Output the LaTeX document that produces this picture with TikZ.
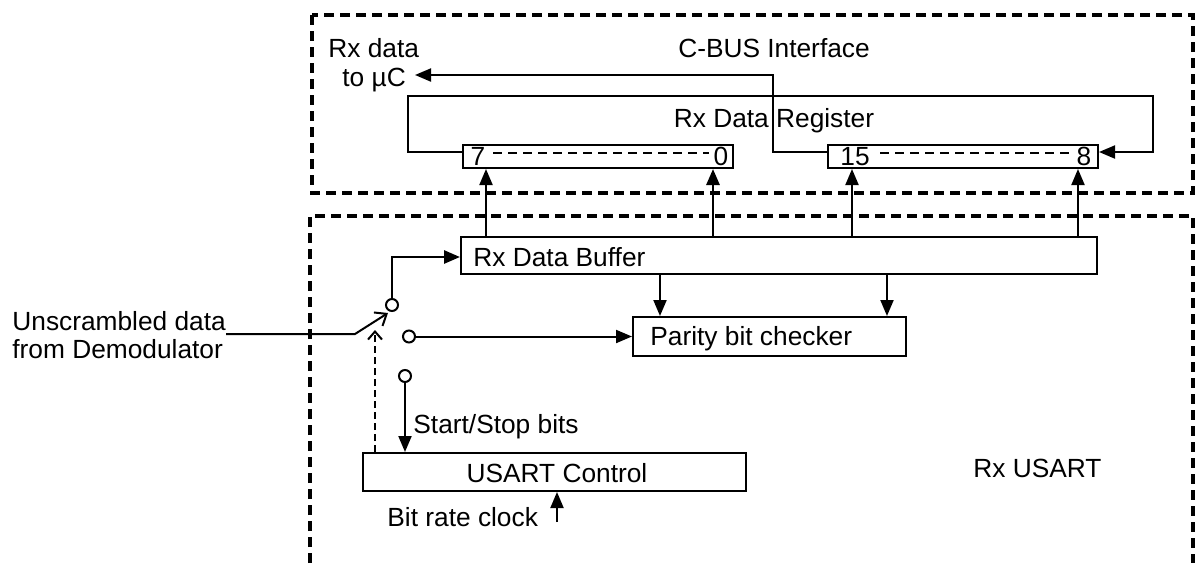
\documentclass[tikz,border=0pt]{standalone}
\usepackage{fontspec}
\setmainfont{Liberation Sans}
\usetikzlibrary{arrows.meta,fit}
\begin{document}
\begin{tikzpicture}[x=0.5pt,y=-0.5pt,
  every node/.style={font=\fontsize{13.15pt}{15.8pt}\selectfont, inner sep=0pt},
  box/.style={draw, line width=1pt, inner sep=0pt},
  lbl/.style={anchor=base west},
  clbl/.style={anchor=base},
  ln/.style={line width=1pt},
  arr/.style={ln, -{Triangle[length=8pt,width=6.5pt]}},
  barb/.style={ln, -{Straight Barb[length=5pt,width=8pt]}},
  region/.style={line width=1.6pt, dash pattern=on 5pt off 3pt},
  bitdash/.style={line width=0.8pt, dash pattern=on 4.5pt off 3pt},
  ctrldash/.style={ln, dash pattern=on 3.5pt off 2pt, -{Straight Barb[length=4pt,width=7pt]}},
  circ/.style={circle, draw, line width=1pt, minimum size=6pt, inner sep=0pt}]
\useasboundingbox (0,0) rectangle (1195,563);

% regions
\draw[region] (312,15) rectangle (1193,193);
\draw[region] (310,563) -- (310,216) -- (1193,216) -- (1193,563);

% C-BUS interface
\node[lbl] (rxd) at (328,57) {Rx data};
\node[lbl] (tuc) at (342,86) {to µC};
\node[clbl] (cbus) at (774,57) {C-BUS Interface};
\node[clbl] (rdr) at (774,127) {Rx Data Register};

\node[box, fit={(463,145)(733,168)}] (r70) {};
\node[box, fit={(828,145)(1098,168)}] (r158) {};
\node[clbl] (b7) at (478,165) {7};
\node[clbl] (b0) at (721,165) {0};
\node[clbl] (b15) at (855,165) {15};
\node[clbl] (b8) at (1084,165) {8};
\draw[bitdash] (493,153) -- (709,153);
\draw[bitdash] (880,153) -- (1073,153);

\coordinate (outtip) at (415,75);
\draw[arr] (r70.west |- 0,152) -| (408,96) -| (1153,152) -- (r158.east |- 0,152);
\draw[arr] (r158.west |- 0,152) -| (773,75) -- (outtip);

% Rx USART
\node[lbl] (rxu) at (973,477) {Rx USART};

\node[box, fit={(461,237)(1097,274)}] (buf) {};
\node[lbl] (buft) at (473,266) {Rx Data Buffer};

\draw[arr] (486,0 |- buf.north) -- (486,0 |- r70.south);
\draw[arr, line width=1.4pt] (713,0 |- buf.north) -- (713,0 |- r70.south);
\draw[arr] (852,0 |- buf.north) -- (852,0 |- r158.south);
\draw[arr] (1078,0 |- buf.north) -- (1078,0 |- r158.south);

\node[box, fit={(633,317)(906,356)}] (par) {};
\node[lbl] (part) at (650,345) {Parity bit checker};
\draw[arr] (660,0 |- buf.south) -- (660,0 |- par.north);
\draw[arr] (887,0 |- buf.south) -- (887,0 |- par.north);

\node[box, fit={(363,453)(746,491)}] (usart) {};
\node[clbl] (usartt) at (557,482) {USART Control};

\node[circ] (c1) at (392,305) {};
\node[circ] (c2) at (409,336.5) {};
\node[circ] (c3) at (405,376) {};

\draw[arr, line width=1.4pt] (c1.north) |- (buf.west |- 0,257);
\draw[arr] (c2.east) -- (par.west |- c2);
\draw[arr] (c3.south) -- (c3.south |- usart.north);
\node[lbl] (ssb) at (413,433) {Start/Stop bits};

\coordinate (clk) at (557,522);
\draw[arr] (clk) -- (clk |- usart.south);
\node[lbl] (brc) at (387,526) {Bit rate clock};

\coordinate (ctrltip) at (375,330);
\draw[ctrldash] (ctrltip |- usart.north) -- (ctrltip);

\node[lbl] (ud1) at (12,330) {Unscrambled data};
\node[lbl] (ud2) at (12,358) {from Demodulator};
\coordinate (pivot) at (355,334);
\coordinate (swtip) at (388,313);
\draw[barb] (ud1.east |- pivot) -- (pivot) -- (swtip);
\end{tikzpicture}
\end{document}
